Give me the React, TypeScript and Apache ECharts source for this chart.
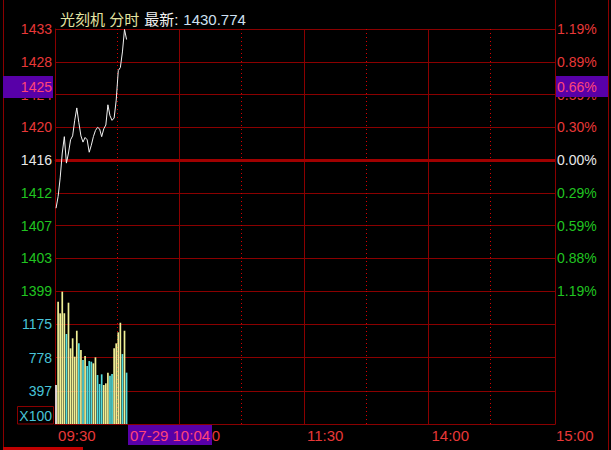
import React, { useEffect, useRef } from 'react';
import * as echarts from 'echarts';

// ---- data ----
const TITLE_NAME = '光刻机 分时';
const TITLE_LATEST_LABEL = '最新:';
const TITLE_LATEST = '1430.774';
const PREV_CLOSE = 1416.1;
const PCT_RANGE = 1.19;

const PRICES = [
  1409.9, 1411.4, 1413.8, 1417.0, 1419.1, 1415.7, 1417.0, 1418.7, 1419.2, 1421.2,
  1422.8, 1420.9, 1419.2, 1418.4, 1419.0, 1418.7, 1417.1, 1418.0, 1419.1, 1419.9,
  1420.3, 1420.1, 1419.1, 1420.1, 1420.6, 1423.2, 1421.8, 1421.2, 1421.5, 1423.8,
  1427.6, 1428.0, 1430.0, 1432.9, 1431.6,
];
const VOLUMES = [
  463, 1453, 1315, 1572, 1315, 1069, 1441, 899, 1018, 800,
  1108, 958, 879, 760, 808, 689, 748, 740, 721, 792,
  582, 475, 590, 463, 483, 610, 574, 594, 899, 958,
  1089, 1203, 831, 1108, 610,
];
// 0 = neutral, 1 = up (yellow), -1 = down (cyan)
const VOL_DIR = [
  0, 1, 1, 1, 1, -1, 1, 1, 1, 1,
  1, -1, 1, -1, 1, -1, -1, -1, 1, 1,
  -1, -1, -1, 1, 1, 1, -1, -1, 1, 1,
  1, 1, -1, 1, -1,
];
const PRICE_LABELS = ['1399', '1403', '1407', '1412', '1416', '1420', '1424', '1428', '1433'];
const PCT_LABELS = ['1.19%', '0.88%', '0.59%', '0.29%', '0.00%', '0.30%', '0.59%', '0.89%', '1.19%'];
const VOL_MAX = 1580;
const VOL_LABELS = ['', '397', '778', '1175', ''];
const VOL_UNIT = 'X100';
const CURSOR_PRICE = '1425';
const CURSOR_PCT = '0.66%';
const CURSOR_TIME = '07-29 10:04';

function buildTimes(): string[] {
  const out: string[] = [];
  const fmt = (t: number) =>
    `${String(Math.floor(t / 60)).padStart(2, '0')}:${String(t % 60).padStart(2, '0')}`;
  for (let t = 9 * 60 + 30; t <= 11 * 60 + 30; t++) out.push(fmt(t));
  for (let t = 13 * 60 + 1; t <= 15 * 60; t++) out.push(fmt(t));
  return out;
}
const TIMES = buildTimes();

const GRID_RED = '#8a0000';
const DOT_RED = '#d80000';
const RED = '#e83838';
const GREEN = '#20c420';
const WHITE = '#e8e8e8';
const CYAN = '#48c4d8';
const PURPLE = '#5800a8';
const PINK = '#ff4478';
const FONT = 'Liberation Sans, Arial, "Noto Sans CJK SC", sans-serif';

const pctColor = (v: any) => {
  const n = Number(v);
  if (n > 0.001) return RED;
  if (n < -0.001) return GREEN;
  return WHITE;
};
const step = PCT_RANGE / 4;
const idxOf = (v: any) => Math.round((Number(v) + PCT_RANGE) / step);

export default function App() {
  const ref = useRef<HTMLDivElement>(null);
  useEffect(() => {
    document.body.style.margin = '0';
    document.body.style.background = '#000';
    const chart = echarts.init(ref.current!, undefined, { renderer: 'svg' });
    const pctData = PRICES.map((p) => ((p - PREV_CLOSE) / PREV_CLOSE) * 100);
    const majorIdx = (i: number) => i === 60 || i === 120 || i === 180;
    const minorIdx = (i: number) => i % 60 === 30;

    const catAxis = (grid: number, extra: any) => ({
      type: 'category',
      gridIndex: grid,
      data: TIMES,
      boundaryGap: true,
      axisTick: { show: false },
      axisLabel: { show: false },
      axisLine: { show: false },
      splitLine: { show: false },
      ...extra,
    });

    const Z = 100;
    chart.setOption({
      animation: false,
      backgroundColor: '#000',
      textStyle: { fontFamily: FONT },
      title: {
        left: 55,
        top: 6,
        text: `{a|${TITLE_NAME}} {b|${TITLE_LATEST_LABEL}} {c|${TITLE_LATEST}}`,
        textStyle: {
          fontWeight: 'normal',
          rich: {
            a: { color: '#e4e4a2', fontSize: 15, fontFamily: FONT, fontWeight: 'normal' },
            b: { color: '#f0f0f0', fontSize: 15, fontFamily: FONT, fontWeight: 'normal' },
            c: { color: '#cfe0f2', fontSize: 15, fontFamily: FONT, fontWeight: 'normal' },
          },
        },
      },
      grid: [
        { left: 55, right: 56, top: 29, height: 262 },
        { left: 55, right: 56, top: 291, height: 133 },
      ],
      xAxis: [
        catAxis(0, {
          axisLine: { show: true, lineStyle: { color: GRID_RED, width: 1 } },
          splitLine: { show: true, interval: (i: number) => majorIdx(i), lineStyle: { color: GRID_RED, width: 1 } },
        }),
        catAxis(0, {
          splitLine: { show: true, interval: (i: number) => minorIdx(i), lineStyle: { color: DOT_RED, width: 1, type: [1, 3] } },
        }),
        catAxis(1, {
          axisLine: { show: true, lineStyle: { color: GRID_RED, width: 1 } },
          axisLabel: {
            show: true,
            interval: (i: number) => i % 60 === 0,
            color: RED,
            fontSize: 15,
            align: 'left',
            margin: 4,
            padding: [0, 0, 0, 2],
          },
          splitLine: { show: true, interval: (i: number) => majorIdx(i), lineStyle: { color: GRID_RED, width: 1 } },
        }),
        catAxis(1, {
          splitLine: { show: true, interval: (i: number) => minorIdx(i), lineStyle: { color: DOT_RED, width: 1, type: [1, 3] } },
        }),
      ],
      yAxis: [
        {
          type: 'value',
          gridIndex: 0,
          position: 'left',
          min: -PCT_RANGE,
          max: PCT_RANGE,
          interval: step,
          axisLine: { show: true, lineStyle: { color: GRID_RED } },
          axisTick: { show: false },
          axisLabel: {
            fontSize: 14,
            margin: 3,
            formatter: (v: number) => PRICE_LABELS[idxOf(v)] ?? '',
            color: pctColor,
          },
          splitLine: { show: true, lineStyle: { color: GRID_RED, width: 1 } },
        },
        {
          type: 'value',
          gridIndex: 0,
          position: 'right',
          min: -PCT_RANGE,
          max: PCT_RANGE,
          interval: step,
          axisLine: { show: true, lineStyle: { color: GRID_RED } },
          axisTick: { show: false },
          axisLabel: {
            fontSize: 14,
            margin: 2,
            formatter: (v: number) => PCT_LABELS[idxOf(v)] ?? '',
            color: pctColor,
          },
          splitLine: { show: false },
        },
        {
          type: 'value',
          gridIndex: 1,
          position: 'left',
          min: 0,
          max: VOL_MAX,
          interval: VOL_MAX / 4,
          axisLine: { show: true, lineStyle: { color: GRID_RED } },
          axisTick: { show: false },
          axisLabel: {
            fontSize: 14,
            margin: 3,
            color: CYAN,
            formatter: (v: number) => VOL_LABELS[Math.round(v / (VOL_MAX / 4))] ?? '',
          },
          splitLine: { show: true, lineStyle: { color: GRID_RED, width: 1 } },
        },
        {
          type: 'value',
          gridIndex: 1,
          position: 'right',
          min: 0,
          max: VOL_MAX,
          interval: VOL_MAX / 4,
          axisLine: { show: true, lineStyle: { color: GRID_RED } },
          axisTick: { show: false },
          axisLabel: { show: false },
          splitLine: { show: false },
        },
      ],
      series: [
        {
          type: 'line',
          xAxisIndex: 0,
          yAxisIndex: 0,
          data: pctData,
          symbol: 'none',
          z: 3,
          lineStyle: { color: '#f2f2f2', width: 1 },
          markLine: {
            z: 1,
            silent: true,
            symbol: 'none',
            label: { show: false },
            lineStyle: { color: '#a00000', width: 3, type: 'solid' },
            data: [{ yAxis: 0 }],
          },
        },
        {
          type: 'bar',
          xAxisIndex: 2,
          yAxisIndex: 2,
          barWidth: 1.7,
          data: VOLUMES.map((v, i) => ({
            value: v,
            itemStyle: { color: VOL_DIR[i] > 0 ? '#f0f096' : VOL_DIR[i] < 0 ? '#54dcdc' : '#f4f4f4' },
          })),
        },
      ],
      graphic: [
        { type: 'line', z: Z, shape: { x1: 3.5, y1: 0, x2: 3.5, y2: 447 }, style: { stroke: GRID_RED, lineWidth: 1 } },
        { type: 'line', z: Z, shape: { x1: 608.5, y1: 0, x2: 608.5, y2: 450 }, style: { stroke: GRID_RED, lineWidth: 1 } },
        { type: 'line', z: Z, shape: { x1: 555.5, y1: 0, x2: 555.5, y2: 29 }, style: { stroke: GRID_RED, lineWidth: 1 } },
        { type: 'rect', z: Z, shape: { x: 3, y: 447, width: 80, height: 3 }, style: { fill: '#c00000' } },
        { type: 'rect', z: Z, shape: { x: 17.5, y: 406.5, width: 36, height: 17.5 }, style: { fill: '#000', stroke: GRID_RED, lineWidth: 1 } },
        {
          type: 'text', z: Z + 1, x: 52, y: 415.5,
          style: { text: VOL_UNIT, fill: CYAN, font: `14px ${FONT}`, align: 'right', verticalAlign: 'middle' },
        },
        { type: 'rect', z: Z, shape: { x: 3, y: 76, width: 50, height: 22 }, style: { fill: PURPLE } },
        {
          type: 'text', z: Z + 1, x: 52, y: 87,
          style: { text: CURSOR_PRICE, fill: PINK, font: `14px ${FONT}`, align: 'right', verticalAlign: 'middle' },
        },
        { type: 'rect', z: Z, shape: { x: 556, y: 76, width: 52, height: 21 }, style: { fill: PURPLE } },
        {
          type: 'text', z: Z + 1, x: 557, y: 86.5,
          style: { text: CURSOR_PCT, fill: PINK, font: `14px ${FONT}`, align: 'left', verticalAlign: 'middle' },
        },
        { type: 'rect', z: Z, shape: { x: 128, y: 425, width: 84, height: 20 }, style: { fill: PURPLE } },
        {
          type: 'text', z: Z + 1, x: 130, y: 435,
          style: { text: CURSOR_TIME, fill: PINK, font: `15px ${FONT}`, align: 'left', verticalAlign: 'middle' },
        },
      ],
    });
    return () => chart.dispose();
  }, []);
  return <div ref={ref} style={{ width: 611, height: 450, background: '#000', overflow: 'hidden' }} />;
}
